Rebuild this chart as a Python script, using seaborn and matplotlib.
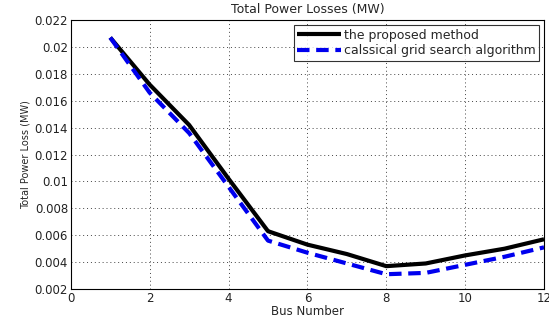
import numpy as np
import pandas as pd
import seaborn as sns
import matplotlib
matplotlib.use("Agg")
import matplotlib.pyplot as plt

# values
bus = [1, 2, 3, 4, 5, 6, 7, 8, 9, 10, 11, 12]
proposed = [0.0207, 0.0172, 0.0142, 0.0102, 0.0063, 0.0053, 0.0046, 0.0037, 0.0039, 0.0045, 0.0050, 0.0057]
classical = [0.0207, 0.0166, 0.0136, 0.0096, 0.0056, 0.0047, 0.0039, 0.0031, 0.0032, 0.0038, 0.0044, 0.0051]
labels = ['the proposed method', 'calssical grid search algorithm']

df = pd.DataFrame({'bus': bus * 2,
                   'loss': proposed + classical,
                   'method': [labels[0]] * len(bus) + [labels[1]] * len(bus)})

sns.set_theme(style="white")
plt.rcParams['font.family'] = ['DejaVu Sans']

fig = plt.figure(figsize=(5.49, 3.19), dpi=100)
ax = fig.add_axes([0.129, 0.094, 0.862, 0.843])

sns.lineplot(data=df, x='bus', y='loss', hue='method', style='method',
             palette=['black', '#0000ee'], dashes=[(1, 0), (3, 1.6)],
             linewidth=3, ax=ax, legend=True)

ax.set_xlim(0, 12)
ax.set_ylim(0.002, 0.022)
ax.set_xticks(np.arange(0, 13, 2))
ax.set_yticks(np.arange(0.002, 0.0221, 0.002))
ax.set_yticklabels(['0.002', '0.004', '0.006', '0.008', '0.01', '0.012',
                    '0.014', '0.016', '0.018', '0.02', '0.022'])
ax.grid(True, color='#444444', linestyle=(0, (1, 3)), linewidth=0.7)
for s in ax.spines.values():
    s.set_color('black')
    s.set_linewidth(0.8)
ax.tick_params(axis='both', labelsize=8.5, colors='#222222', direction='in',
               length=3, pad=2)

ax.set_title('Total Power Losses (MW)', fontsize=9, pad=5)
ax.set_xlabel('Bus Number', fontsize=8.5, labelpad=0)
ax.set_ylabel('Total Power Loss (MW)', fontsize=7, labelpad=3)

leg = ax.legend(loc='upper right', fontsize=9, frameon=True, fancybox=False,
                handlelength=3.5, handletextpad=0.2, borderpad=0.3,
                labelspacing=0.2, borderaxespad=0.4)
leg.get_frame().set_edgecolor('black')
leg.get_frame().set_linewidth(0.8)

fig.savefig('out.png', dpi=100)
